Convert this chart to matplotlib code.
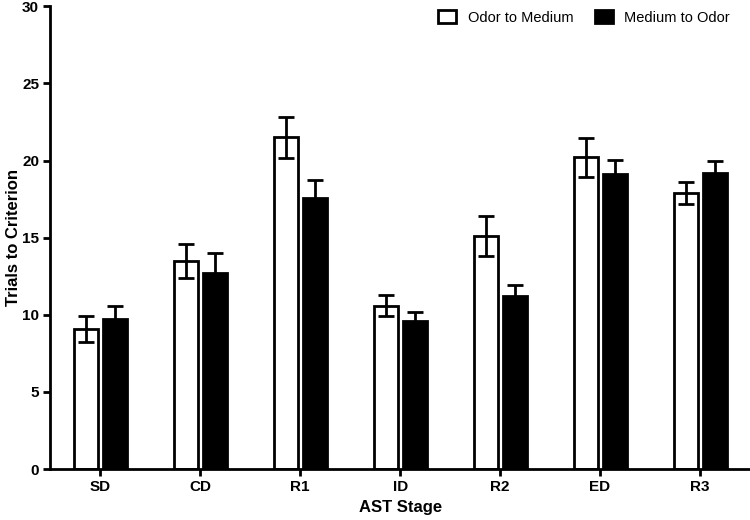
import numpy as np
import matplotlib.pyplot as plt

plt.rcParams['font.family'] = ['Liberation Sans', 'DejaVu Sans']

stages = ["SD", "CD", "R1", "ID", "R2", "ED", "R3"]
odor_to_medium = [9.1, 13.5, 21.5, 10.6, 15.1, 20.2, 17.9]
odor_to_medium_err = [0.85, 1.1, 1.35, 0.7, 1.3, 1.25, 0.7]
medium_to_odor = [9.75, 12.7, 17.6, 9.6, 11.2, 19.1, 19.2]
medium_to_odor_err = [0.85, 1.3, 1.15, 0.6, 0.7, 0.95, 0.8]

x = np.arange(len(stages))
w = 0.24
off = 0.145

fig = plt.figure(figsize=(7.5, 5.2), dpi=100)
ax = fig.add_axes([0.067, 0.098, 0.933, 0.89])

err_kw = dict(ecolor="black", elinewidth=2, capsize=6, capthick=2)
ax.bar(x - off, odor_to_medium, w, yerr=odor_to_medium_err, color="white",
       edgecolor="black", linewidth=2, label="Odor to Medium", error_kw=err_kw, zorder=2)
ax.bar(x + off, medium_to_odor, w, yerr=medium_to_odor_err, color="black",
       edgecolor="black", linewidth=2, label="Medium to Odor", error_kw=err_kw, zorder=2)

ax.set_xlim(-0.5, 6.5)
ax.set_ylim(0, 30)
ax.set_yticks(range(0, 31, 5))
ax.set_xticks(x)
ax.set_xticklabels(stages)
for lab in ax.get_xticklabels() + ax.get_yticklabels():
    lab.set_fontweight("bold")
    lab.set_fontsize(11)

ax.spines["top"].set_visible(False)
ax.spines["right"].set_visible(False)
ax.spines["left"].set_linewidth(2)
ax.spines["bottom"].set_linewidth(2)
ax.tick_params(width=2, length=5, pad=3)

ax.set_xlabel("AST Stage", fontsize=12, fontweight="bold", labelpad=4)
ax.set_ylabel("Trials to Criterion", fontsize=12, fontweight="bold", labelpad=1)

ax.legend(loc="upper right", ncol=2, frameon=False, fontsize=10.5,
          handlelength=1.2, handleheight=1.0, columnspacing=1.5,
          bbox_to_anchor=(0.99, 1.02))

fig.savefig("out.png", dpi=100)
